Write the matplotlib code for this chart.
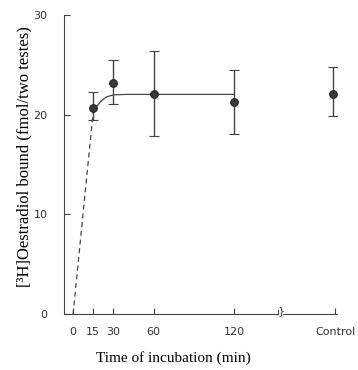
import matplotlib
matplotlib.use("Agg")
import matplotlib.pyplot as plt
import numpy as np

# Data (minutes; Control placed at the end of a broken axis)
times = [15, 30, 60, 120]
means = [20.7, 23.2, 22.1, 21.3]
err_low = [19.5, 21.1, 17.9, 18.1]
err_high = [22.3, 25.5, 26.4, 24.5]

control_mean = 22.1
control_low = 19.9
control_high = 24.8

# Fitted curve
curve_dash_t = [0, 15]
curve_dash_y = [0, 20.3]
curve_t = [15, 18, 21, 25, 30, 40, 60, 90, 120]
curve_y = [20.4, 20.9, 21.4, 21.8, 22.0, 22.05, 22.05, 22.05, 22.05]

xtick_pos = [0, 15, 30, 60, 120]
xtick_labels = ["0", "15", "30", "60", "120", "Control"]
ytick_pos = [0, 10, 20, 30]

CONTROL_X = 195.5
BREAK_X = 152

fig = plt.figure(figsize=(3.58, 3.70), dpi=100)
ax = fig.add_axes([0.179, 0.151, 0.762, 0.808])
ax.set_xlim(-6.7, 196.6)
ax.set_ylim(0, 30)

lc = "#444444"
ax.plot(curve_dash_t, curve_dash_y, color=lc, lw=0.9, ls=(0, (4, 3)))
ax.plot(curve_t, curve_y, color=lc, lw=0.9)

yerr = [np.array(means) - np.array(err_low), np.array(err_high) - np.array(means)]
style = dict(fmt="o", color=lc, ecolor=lc, elinewidth=1.0, capsize=3.5, capthick=1.2,
             ms=5.5, mfc="#3a3a3a", mec="#222222", mew=0.8)
ax.errorbar(times, means, yerr=yerr, **style)
ax.errorbar([CONTROL_X - 1.5], [control_mean],
            yerr=[[control_mean - control_low], [control_high - control_mean]], **style)

for s in ["top", "right"]:
    ax.spines[s].set_visible(False)
ax.spines["left"].set_color(lc)
ax.spines["bottom"].set_color(lc)
ax.spines["bottom"].set_bounds(-6.7, BREAK_X + 1)
ax.plot([BREAK_X + 4.5, 196.6], [0, 0], color=lc, lw=0.8, clip_on=False)
ax.plot([BREAK_X + 1, BREAK_X + 1], [0, 0.4], color=lc, lw=0.8, clip_on=False)
ax.text(BREAK_X + 3.3, -0.15, "}", fontsize=8, ha="center", va="bottom", color=lc,
        family="DejaVu Sans")

ax.set_xticks(xtick_pos + [CONTROL_X])
ax.set_xticklabels(xtick_labels)
ax.set_yticks(ytick_pos)
ax.set_yticklabels([str(v) for v in ytick_pos])
ax.tick_params(direction="in", length=4, width=0.8, color=lc, labelsize=8,
               labelcolor="#333333")
ax.tick_params(axis="x", pad=9)
ax.tick_params(axis="y", pad=12)
for lab in ax.get_xticklabels() + ax.get_yticklabels():
    lab.set_family("DejaVu Sans")

ax.set_xlabel("Time of incubation (min)", family="Liberation Serif", fontsize=11)
ax.xaxis.set_label_coords(0.40, -0.125)
ax.set_ylabel("[³H]Oestradiol bound (fmol/two testes)", family="Liberation Serif",
              fontsize=12)
ax.yaxis.set_label_coords(-0.118, 0.528)

fig.savefig("out.png", dpi=100)
